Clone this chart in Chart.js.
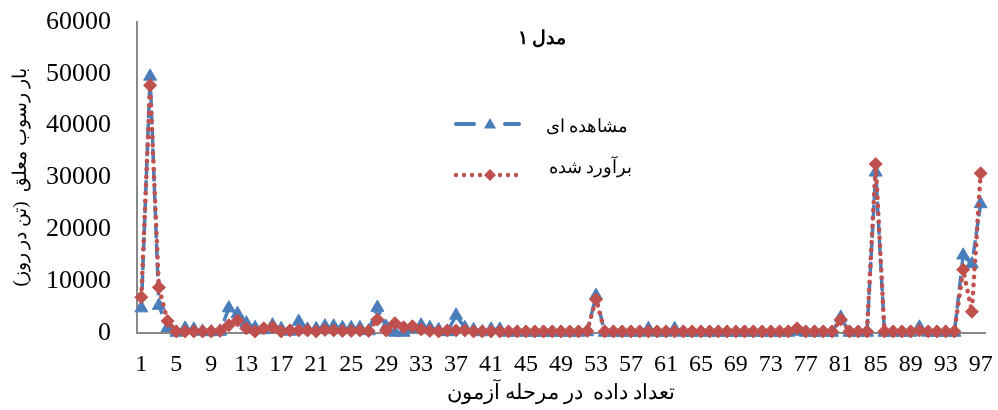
<!DOCTYPE html>
<html><head><meta charset="utf-8">
<script src="https://cdn.jsdelivr.net/npm/chart.js@4.4.1/dist/chart.umd.min.js"></script>
<style>html,body{margin:0;padding:0;background:#fff;}canvas{display:block}</style>
</head><body>
<canvas id="c" width="998" height="410" dir="rtl"></canvas>
<script>
const categories = [1,2,3,4,5,6,7,8,9,10,11,12,13,14,15,16,17,18,19,20,21,22,23,24,25,26,27,28,29,30,31,32,33,34,35,36,37,38,39,40,41,42,43,44,45,46,47,48,49,50,51,52,53,54,55,56,57,58,59,60,61,62,63,64,65,66,67,68,69,70,71,72,73,74,75,76,77,78,79,80,81,82,83,84,85,86,87,88,89,90,91,92,93,94,95,96,97];
const observed = [4800,49500,5300,1000,100,900,700,300,200,300,
  4800,3700,1900,1000,600,1500,800,300,2200,700,
  800,1300,1300,1000,1000,1000,400,4900,1200,100,
  100,800,1500,1000,600,200,3400,1000,600,200,
  700,700,100,150,100,100,80,100,120,100,
  100,200,7200,100,100,100,100,100,800,100,
  100,800,100,100,100,100,100,100,100,100,
  100,100,100,100,100,300,100,100,100,100,
  3000,100,100,100,31000,100,100,100,100,1100,
  100,100,100,100,15000,13300,24900];
const predicted = [6900,47800,8800,2300,300,300,300,300,300,400,
  1500,2400,900,300,900,1100,300,500,500,500,
  300,600,500,400,400,500,400,2600,500,1900,
  1100,1300,700,400,300,500,500,500,300,300,
  300,300,300,300,300,300,300,300,300,300,
  300,400,6500,300,300,300,300,300,300,300,
  300,300,300,300,300,300,300,300,300,300,
  300,300,300,300,300,900,300,300,300,300,
  2600,300,300,300,32600,300,300,300,300,500,
  300,300,300,300,12200,4100,30800];
const xTickLabels = ['1','5','9','13','17','21','25','29','33','37','41','45','49','53','57','61','65','69','73','77','81','85','89','93','97'];
const yTicks = [0,10000,20000,30000,40000,50000,60000];
const seriesNames = ['مشاهده ای','برآورد شده'];
const chartTitle = 'مدل ۱';
const xTitle = 'تعداد داده  در مرحله آزمون';
const yTitle = 'بار رسوب معلق  (تن در روز)';

const BLUE = '#4A7EBB', RED = '#C0504D', AXIS = '#898989';
const SERIF = '"Liberation Serif", "DejaVu Serif", serif';

function tri(ctx, x, y, r){
  ctx.beginPath();
  ctx.moveTo(x, y - r);
  ctx.lineTo(x + r*0.866, y + r*0.5);
  ctx.lineTo(x - r*0.866, y + r*0.5);
  ctx.closePath(); ctx.fill();
}
function dia(ctx, x, y, r){
  ctx.beginPath();
  ctx.moveTo(x, y - r); ctx.lineTo(x + r, y); ctx.lineTo(x, y + r); ctx.lineTo(x - r, y);
  ctx.closePath(); ctx.fill();
}

const overlay = {
  id: 'overlay',
  afterDraw(chart){
    const ctx = chart.ctx;
    ctx.save();
    ctx.fillStyle = '#000';
    ctx.textBaseline = 'middle';
    ctx.textAlign = 'center';
    ctx.font = 'bold 19px ' + SERIF;
    ctx.fillText(chartTitle, 542, 39);
    ctx.strokeStyle = BLUE; ctx.lineWidth = 4; ctx.lineCap = 'round';
    ctx.beginPath(); ctx.moveTo(456, 124); ctx.lineTo(474, 124); ctx.stroke();
    ctx.beginPath(); ctx.moveTo(505, 124); ctx.lineTo(519, 124); ctx.stroke();
    ctx.fillStyle = BLUE; tri(ctx, 490, 125, 7);
    ctx.fillStyle = RED;
    [456,464,472,480,500,508,516].forEach(x => { ctx.beginPath(); ctx.arc(x, 175, 2.2, 0, Math.PI*2); ctx.fill(); });
    dia(ctx, 490, 175, 6);
    ctx.fillStyle = '#000';
    ctx.textAlign = 'right';
    ctx.font = '18px ' + SERIF;
    ctx.fillText(seriesNames[0], 628, 127);
    ctx.fillText(seriesNames[1], 632, 168);
    ctx.restore();
  }
};

new Chart(document.getElementById('c'), {
  type: 'line',
  data: {
    labels: categories,
    datasets: [
      { label: seriesNames[0], data: observed, borderColor: BLUE, backgroundColor: BLUE,
        borderWidth: 3.5, borderDash: [14, 5], pointStyle: 'triangle', pointRadius: 7.5,
        pointBackgroundColor: BLUE, pointBorderColor: BLUE, pointBorderWidth: 1,
        tension: 0, clip: false, order: 2 },
      { label: seriesNames[1], data: predicted, borderColor: RED, backgroundColor: RED,
        borderWidth: 4.5, borderDash: [0.5, 7.5], borderCapStyle: 'round', pointStyle: 'rectRot', pointRadius: 6.5,
        pointBackgroundColor: RED, pointBorderColor: RED, pointBorderWidth: 1,
        tension: 0, clip: false, order: 1 }
    ]
  },
  options: {
    responsive: false, devicePixelRatio: 1, animation: false,
    layout: { padding: { top: 22, right: 13, left: 0, bottom: 0 } },
    plugins: { legend: { display: false }, tooltip: { enabled: false }, title: { display: false } },
    scales: {
      x: {
        type: 'category', offset: true,
        grid: { display: false, drawTicks: true, tickLength: 15 },
        border: { display: true, color: AXIS, width: 2 },
        ticks: { autoSkip: false, maxRotation: 0, minRotation: 0, padding: 2, color: '#000',
          font: { family: SERIF, size: 24 },
          callback: (v, i) => (i % 4 === 0 ? xTickLabels[i / 4] : '') },
        title: { display: true, text: xTitle, color: '#000', font: { family: SERIF, size: 20.5 }, padding: { top: 0, bottom: 4 } },
        afterFit: s => { s.height = 77; }
      },
      y: {
        min: 0, max: 60000,
        afterBuildTicks: s => { s.ticks = yTicks.map(v => ({ value: v })); },
        grid: { display: false, drawTicks: true, tickLength: 24 },
        border: { display: true, color: AXIS, width: 2 },
        ticks: { padding: 2, color: '#000', font: { family: SERIF, size: 26 },
          callback: v => String(v) },
        title: { display: true, text: yTitle, color: '#000', font: { family: SERIF, size: 19 }, padding: { top: 10, bottom: 0 } },
        afterFit: s => { s.width = 137; }
      }
    }
  },
  plugins: [overlay]
});
</script>
</body></html>
